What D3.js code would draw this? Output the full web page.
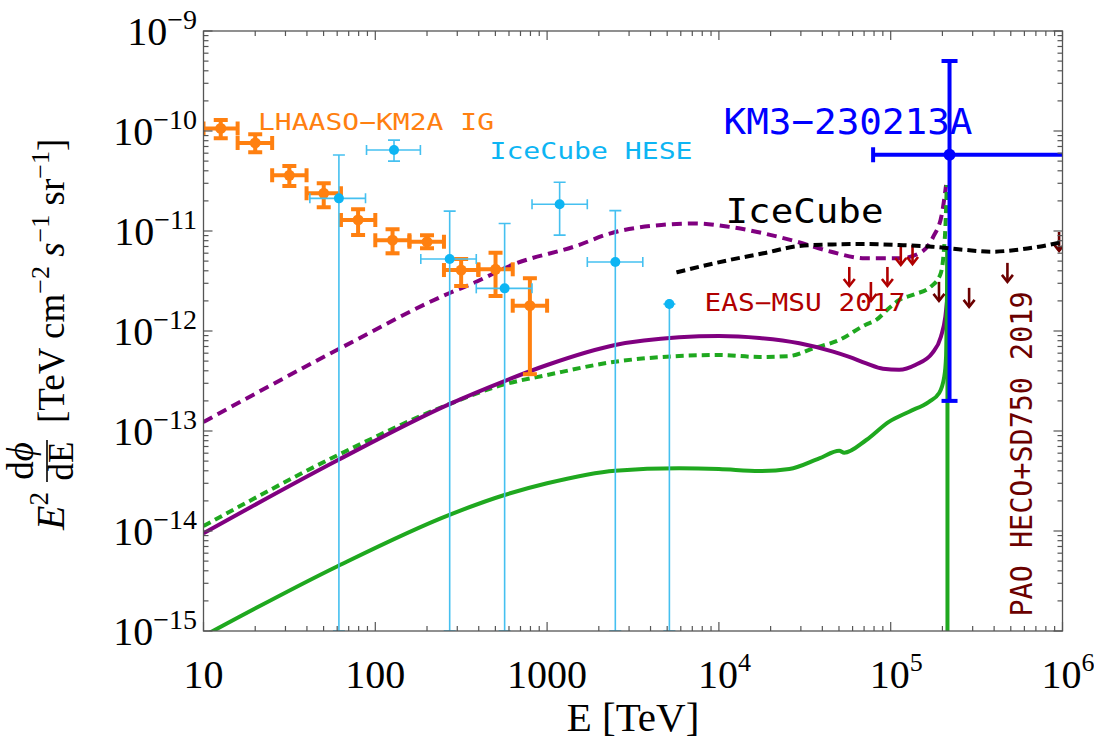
<!DOCTYPE html>
<html><head><meta charset="utf-8">
<script src="https://cdn.jsdelivr.net/npm/d3@7"></script>
<style>body{margin:0;background:#fff}svg{display:block}</style>
</head><body>
<svg id="chart" width="1094" height="736"></svg>
<script>
// ---------------- data ----------------
const xTickValues = [10, 100, 1000, 1e4, 1e5, 1e6];
const xTickBase = ["10", "100", "1000", "10", "10", "10"];
const xTickSup = ["", "", "", "4", "5", "6"];
const yTickValues = [1e-9, 1e-10, 1e-11, 1e-12, 1e-13, 1e-14, 1e-15];
const yTickSup = ["−9", "−10", "−11", "−12", "−13", "−14", "−15"];

// model curves
const purpleDashedE = [10, 61.3, 271, 370, 630, 1480, 2340, 4630, 7300, 11500, 18150, 28600, 45000, 71100, 1.12e5, 1.465e5, 1.77e5, 1.99e5, 2.10e5];
const purpleDashedF = [1.23e-13, 6.6e-13, 2.4e-12, 3.0e-12, 4.6e-12, 7.1e-12, 9.48e-12, 1.15e-11, 1.19e-11, 1.10e-11, 9.48e-12, 7.8e-12, 6.2e-12, 5.33e-12, 5.33e-12, 5.98e-12, 8.77e-12, 1.51e-11, 2.88e-11];

const purpleSolidE = [10, 60.7, 270, 565, 1000, 2490, 5870, 1e4, 17200, 29400, 46200, 57400, 72100, 90200, 1.12e5, 1.40e5, 1.75e5, 1.96e5, 2.08e5, 2.14e5];
const purpleSolidF = [9.48e-15, 5.13e-14, 1.86e-13, 3.16e-13, 4.57e-13, 7.24e-13, 8.65e-13, 8.91e-13, 8.51e-13, 7.53e-13, 6.21e-13, 5.5e-13, 4.75e-13, 4.2e-13, 4.1e-13, 4.6e-13, 6.03e-13, 8.77e-13, 1.39e-12, 2.20e-12];

const greenDashedE = [10, 60.7, 270, 565, 1000, 2490, 5870, 1e4, 17200, 25700, 35900, 50200, 71100, 82400, 98000, 1.12e5, 1.39e5, 1.70e5, 1.94e5, 2.03e5, 2.10e5, 2.12e5];
const greenDashedF = [1.12e-14, 5.75e-14, 1.86e-13, 2.93e-13, 3.63e-13, 4.93e-13, 5.62e-13, 5.75e-13, 5.5e-13, 5.62e-13, 6.76e-13, 8.13e-13, 1.15e-12, 1.29e-12, 1.70e-12, 2.04e-12, 2.34e-12, 2.75e-12, 3.63e-12, 5.75e-12, 1.62e-11, 2.88e-11];

const greenSolidE = [10, 60.7, 270, 565, 1000, 2490, 5870, 1e4, 17200, 25700, 38400, 50200, 53600, 72100, 98000, 1.28e5, 1.67e5, 1.91e5, 2.05e5, 2.10e5, 2.12e5, 2.14e5];
const greenSolidF = [8.9e-16, 4.47e-15, 1.45e-14, 2.29e-14, 3.0e-14, 4.01e-14, 4.24e-14, 4.17e-14, 3.98e-14, 4.17e-14, 5.33e-14, 6.35e-14, 6.07e-14, 8.13e-14, 1.24e-13, 1.56e-13, 1.96e-13, 2.38e-13, 3.49e-13, 5.53e-13, 1.51e-12, 6.46e-12];
const greenCutoffE = 2.14e5;

const icecubeE = [5660, 11500, 18150, 29400, 45700, 71100, 1.12e5, 1.74e5, 2.73e5, 3.89e5, 5.35e5, 7.3e5, 1e6];
const icecubeF = [3.86e-12, 5.13e-12, 5.98e-12, 7.08e-12, 7.33e-12, 7.41e-12, 7.24e-12, 6.97e-12, 6.46e-12, 6.21e-12, 6.46e-12, 6.97e-12, 7.76e-12];

// LHAASO-KM2A inner Galaxy
const lhaasoE = [12.6, 20, 31.6, 50.1, 79.4, 126, 200, 316, 501, 794];
const lhaasoElo = [10, 15.8, 25.1, 39.8, 63.1, 100, 158, 251, 398, 631];
const lhaasoEhi = [15.8, 25.1, 39.8, 63.1, 100, 158, 251, 398, 631, 1000];
const lhaasoF = [1.06e-10, 7.6e-11, 3.6e-11, 2.38e-11, 1.29e-11, 8.1e-12, 7.8e-12, 4.07e-12, 4.14e-12, 1.79e-12];
const lhaasoFlo = [8.45e-11, 6.12e-11, 2.82e-11, 1.73e-11, 9.1e-12, 5.98e-12, 6.71e-12, 2.82e-12, 2.24e-12, 3.7e-13];
const lhaasoFhi = [1.29e-10, 9.27e-11, 4.47e-11, 3.0e-11, 1.65e-11, 1.04e-11, 9.06e-12, 5.25e-12, 6.07e-12, 3.37e-12];

// IceCube HESE
const heseE = [61.4, 128.5, 271, 566, 1183, 2495, 5150];
const heseElo = [41.6, 88.9, 184, 387, 817, 1714, 5150];
const heseEhi = [87.7, 183, 387, 817, 1714, 3606, 5150];
const heseF = [2.12e-11, 6.46e-11, 5.25e-12, 2.67e-12, 1.85e-11, 4.9e-12, 1.86e-12];
const heseFlo = [1e-15, 5.0e-11, 1e-15, 1e-15, 9.1e-12, 1e-15, 1e-15];
const heseFhi = [5.75e-11, 8.1e-11, 1.58e-11, 1.19e-11, 3.07e-11, 1.6e-11, 1.86e-12];

// upper limits
const easmsuE = [57400, 76700, 95700, 1.145e5, 1.34e5];
const easmsuF = [4.37e-12, 3.09e-12, 4.37e-12, 7.08e-12, 7.24e-12];
const paoE = [1.91e5, 2.86e5, 4.78e5, 9.55e5];
const paoF = [3.1e-12, 2.7e-12, 4.8e-12, 9.8e-12];

// KM3-230213A
const km3E = [2.2e5];
const km3Elo = [7.9e4];
const km3Ehi = [2.6e6];
const km3F = [5.8e-11];
const km3Flo = [2.0e-13];
const km3Fhi = [5.0e-10];

// ---------------- drawing ----------------
const svg = d3.select("#chart");
const M = {left: 203.5, right: 1062.5, top: 31, bottom: 631};
const x = d3.scaleLog().domain([10, 1e6]).range([M.left, M.right]);
const y = d3.scaleLog().domain([1e-15, 1e-9]).range([M.bottom, M.top]);

const C = {
  purple: "#800080", green: "#1fa81f", orange: "#ff8010", hese: "#0db5f3",
  heseLine: "#45c0f0", red: "#b00000", maroon: "#6b0000", blue: "#0000ff",
  frame: "#555"
};
const MONO = "DejaVu Sans Mono";
const SERIF = "Liberation Serif";

svg.append("defs").append("clipPath").attr("id", "plotclip")
  .append("rect").attr("x", M.left).attr("y", M.top)
  .attr("width", M.right - M.left).attr("height", M.bottom - M.top);

const plot = svg.append("g").attr("clip-path", "url(#plotclip)");
const zip = (a, b) => a.map((v, i) => [v, b[i]]);
const line = d3.line().x(d => x(d[0])).y(d => y(d[1])).curve(d3.curveMonotoneX);

function curve(E, F, color, dash) {
  plot.append("path").datum(zip(E, F)).attr("d", line)
    .attr("fill", "none").attr("stroke", color).attr("stroke-width", 4)
    .attr("stroke-dasharray", dash || null).attr("stroke-linejoin", "round");
}
curve(purpleDashedE, purpleDashedF, C.purple, "10,6");
curve(greenDashedE, greenDashedF, C.green, "8,5");
curve(purpleSolidE, purpleSolidF, C.purple);
curve(greenSolidE, greenSolidF, C.green);
// cutoff drop of the solid green curve
plot.append("line")
  .attr("x1", x(greenCutoffE)).attr("x2", x(greenCutoffE))
  .attr("y1", y(greenSolidF[greenSolidF.length - 1])).attr("y2", y(1e-16))
  .attr("stroke", C.green).attr("stroke-width", 4);

function errorBars(E, Elo, Ehi, F, Flo, Fhi, opt) {
  const g = plot.append("g").attr("stroke", opt.line).attr("stroke-width", opt.sw).attr("fill", "none");
  E.forEach((e, i) => {
    const cx = x(e), cy = y(F[i]);
    const xl = x(Elo[i]), xr = x(Ehi[i]), yt = y(Fhi[i]), yb = y(Flo[i]);
    g.append("line").attr("x1", xl).attr("x2", xr).attr("y1", cy).attr("y2", cy);
    g.append("line").attr("x1", cx).attr("x2", cx).attr("y1", yt).attr("y2", yb);
    const hc = opt.capY / 2, vc = opt.capX / 2;
    g.append("line").attr("x1", cx - hc).attr("x2", cx + hc).attr("y1", yt).attr("y2", yt);
    g.append("line").attr("x1", cx - hc).attr("x2", cx + hc).attr("y1", yb).attr("y2", yb);
    g.append("line").attr("x1", xl).attr("x2", xl).attr("y1", cy - vc).attr("y2", cy + vc);
    g.append("line").attr("x1", xr).attr("x2", xr).attr("y1", cy - vc).attr("y2", cy + vc);
  });
  plot.append("g").selectAll("circle").data(E).join("circle")
    .attr("cx", d => x(d)).attr("cy", (d, i) => y(F[i])).attr("r", opt.r).attr("fill", opt.dot);
}
errorBars(lhaasoE, lhaasoElo, lhaasoEhi, lhaasoF, lhaasoFlo, lhaasoFhi,
  {line: C.orange, dot: C.orange, sw: 4, capX: 14, capY: 14, r: 5.5});
errorBars(heseE, heseElo, heseEhi, heseF, heseFlo, heseFhi,
  {line: C.heseLine, dot: C.hese, sw: 1.6, capX: 10, capY: 12, r: 5});

function arrows(E, F, color) {
  const g = plot.append("g").attr("stroke", color).attr("stroke-width", 2.6).attr("fill", "none")
    .attr("stroke-linecap", "butt").attr("stroke-linejoin", "miter");
  E.forEach((e, i) => {
    const ax = x(e), ay = y(F[i]), len = 19;
    g.append("line").attr("x1", ax).attr("x2", ax).attr("y1", ay).attr("y2", ay + len);
    g.append("path").attr("d", `M${ax - 5.5},${ay + len - 7}L${ax},${ay + len}L${ax + 5.5},${ay + len - 7}`);
  });
}
arrows(easmsuE, easmsuF, C.red);
arrows(paoE, paoF, C.maroon);

errorBars(km3E, km3Elo, km3Ehi, km3F, km3Flo, km3Fhi,
  {line: C.blue, dot: C.blue, sw: 4, capX: 15, capY: 16, r: 6});

curve(icecubeE, icecubeF, "#000", "9,5");

// ---------------- frame & ticks ----------------
const minorX = [], minorY = [];
for (let d = 1; d < 6; d++) for (let k = 2; k < 10; k++) minorX.push(k * Math.pow(10, d));
for (let d = -15; d < -9; d++) for (let k = 2; k < 10; k++) minorY.push(k * Math.pow(10, d));

const axG = svg.append("g").attr("stroke", C.frame).attr("stroke-width", 1.2);
function vTicks(vals, len) {
  vals.forEach(v => {
    axG.append("line").attr("x1", x(v)).attr("x2", x(v)).attr("y1", M.bottom).attr("y2", M.bottom - len);
    axG.append("line").attr("x1", x(v)).attr("x2", x(v)).attr("y1", M.top).attr("y2", M.top + len);
  });
}
function hTicks(vals, len) {
  vals.forEach(v => {
    axG.append("line").attr("y1", y(v)).attr("y2", y(v)).attr("x1", M.left).attr("x2", M.left + len);
    axG.append("line").attr("y1", y(v)).attr("y2", y(v)).attr("x1", M.right).attr("x2", M.right - len);
  });
}
vTicks(xTickValues, 9); vTicks(minorX, 5);
hTicks(yTickValues, 9); hTicks(minorY, 5);
svg.append("rect").attr("x", M.left).attr("y", M.top)
  .attr("width", M.right - M.left).attr("height", M.bottom - M.top)
  .attr("fill", "none").attr("stroke", C.frame).attr("stroke-width", 1.3);

// tick labels
const yl = svg.append("g").attr("font-family", SERIF).attr("fill", "#000");
yTickValues.forEach((v, i) => {
  const t = yl.append("text").attr("x", 197).attr("y", y(v) + 14)
    .attr("text-anchor", "end").attr("font-size", 40).text("10");
  t.append("tspan").attr("font-size", 28).attr("dy", -16).text(yTickSup[i]);
});
xTickValues.forEach((v, i) => {
  if (xTickSup[i]) {
    const t = yl.append("text").attr("x", x(v) - 21).attr("y", 688).attr("font-size", 40).text(xTickBase[i]);
    t.append("tspan").attr("font-size", 26).attr("dy", -17).text(xTickSup[i]);
  } else {
    yl.append("text").attr("x", x(v)).attr("y", 688).attr("text-anchor", "middle")
      .attr("font-size", 40).text(xTickBase[i]);
  }
});

// axis titles
svg.append("text").attr("x", 633).attr("y", 731).attr("text-anchor", "middle")
  .attr("font-family", SERIF).attr("font-size", 41).text("E [TeV]");

const yt = svg.append("g").attr("transform", "translate(64,331) rotate(-90)")
  .attr("font-family", SERIF).attr("fill", "#000");
const e2 = yt.append("text").attr("x", -199).attr("y", 0).attr("font-size", 40);
e2.append("tspan").attr("font-style", "italic").text("E");
e2.append("tspan").attr("font-size", 27).attr("dy", -16).text("2");
const num = yt.append("text").attr("x", -130).attr("y", -31).attr("text-anchor", "middle").attr("font-size", 37);
num.append("tspan").text("d");
num.append("tspan").attr("font-style", "italic").text("ϕ");
yt.append("line").attr("x1", -151).attr("x2", -109).attr("y1", -17).attr("y2", -17)
  .attr("stroke", "#000").attr("stroke-width", 1.6);
yt.append("text").attr("x", -130).attr("y", 9).attr("text-anchor", "middle").attr("font-size", 35).text("dE");
const unit = yt.append("text").attr("x", -92).attr("y", 0).attr("font-size", 37);
unit.append("tspan").text("[TeV cm");
unit.append("tspan").attr("font-size", 26).attr("dy", -15).text("−2");
unit.append("tspan").attr("dy", 15).text(" ");
unit.append("tspan").attr("font-style", "italic").text("s");
unit.append("tspan").attr("font-size", 26).attr("dy", -15).text("−1");
unit.append("tspan").attr("dy", 15).text(" sr");
unit.append("tspan").attr("font-size", 26).attr("dy", -15).text("−1");
unit.append("tspan").attr("dy", 15).text("]");

// ---------------- labels ----------------
function label(txt, px, py, size, len, color, rot) {
  const t = svg.append("text").attr("font-family", MONO).attr("font-size", size)
    .attr("fill", color).attr("textLength", len).attr("lengthAdjust", "spacingAndGlyphs").text(txt);
  if (rot) t.attr("transform", `translate(${px},${py}) rotate(-90)`);
  else t.attr("x", px).attr("y", py);
}
label("LHAASO−KM2A IG", 258, 129.5, 23, 236, C.orange);
label("IceCube HESE", 489.5, 159.3, 23, 203, C.hese);
label("KM3−230213A", 723.5, 134.3, 36, 249, C.blue);
label("IceCube", 725.5, 223.3, 33, 158, "#000");
label("EAS−MSU 2017", 704.5, 310.7, 24, 201, C.red);
label("PAO HECO+SD750 2019", 1032, 616.5, 30, 325, C.maroon, true);
</script>
</body></html>
